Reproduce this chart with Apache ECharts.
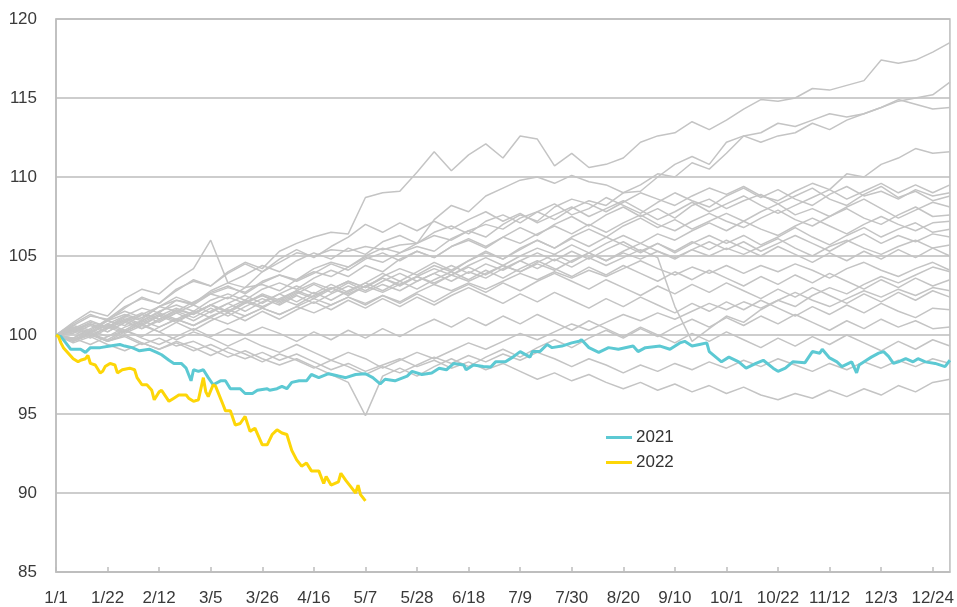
<!DOCTYPE html>
<html>
<head>
<meta charset="utf-8">
<script src="https://cdn.jsdelivr.net/npm/echarts@6/dist/echarts.min.js"></script>
<style>
html,body{margin:0;padding:0;background:#fff;}
#chart{width:957px;height:607px;}
</style>
</head>
<body>
<div id="chart"></div>
<script>
// x tick labels (every 21 days starting 1/1)
const xTickLabels = ['1/1','1/22','2/12','3/5','3/26','4/16','5/7','5/28','6/18','7/9','7/30','8/20','9/10','10/1','10/22','11/12','12/3','12/24'];
const yTicks = [85, 90, 95, 100, 105, 110, 115, 120];

// Grey history lines: weekly values (day 0, 7, 14, ... 364)
const grayA = [100,100.6,101.2,101.0,101.8,102.3,102.0,102.9,103.4,103.1,104.0,104.6,104.2,105.3,105.8,106.2,106.5,106.4,108.7,109.0,109.1,110.3,111.6,110.4,111.4,112.1,111.2,112.6,112.4,110.7,111.5,110.6,110.8,111.2,112.2,112.6,112.8,113.5,113.0,113.6,114.3,114.9,114.8,115.0,115.6,115.5,115.8,116.1,117.4,117.2,117.4,117.9,118.5];
const grayB = [100,100.3,100.8,100.5,101.2,101.7,101.4,102.2,102.0,102.8,103.3,103.0,104.0,104.6,105.2,105.0,105.4,105.3,105.6,105.4,105.7,105.8,107.3,108.2,107.8,108.8,109.3,109.8,110.0,109.6,110.1,109.7,109.5,109.0,109.1,110.0,110.8,111.3,110.8,112.2,112.6,112.8,113.4,113.2,113.6,114.0,113.8,114.0,114.4,114.8,115.0,115.2,116.0];
const grayC = [100,100.5,100.2,100.9,101.3,101.0,101.8,102.2,101.9,102.6,103.0,102.7,103.4,103.8,103.5,104.2,104.6,104.3,105.0,105.5,105.2,105.8,106.3,106.0,106.6,107.0,106.7,107.4,107.8,107.3,108.0,108.5,108.2,109.0,109.5,110.2,110.0,110.9,110.5,111.5,112.6,112.2,112.6,112.8,113.4,113.0,113.6,114.0,114.4,114.9,114.6,114.3,114.4];
const grayD = [100,99.8,100.4,100.9,100.6,101.3,101.8,101.5,102.1,102.6,102.3,103.0,103.2,102.8,103.5,104.0,103.7,104.3,104.9,104.6,105.2,105.6,105.3,106.1,106.6,106.2,107.0,107.6,107.2,108.1,108.6,108.3,107.8,108.4,109.0,108.6,108.2,108.8,109.3,108.9,109.4,108.8,108.5,109.1,109.6,109.2,110.2,110.0,110.8,111.2,111.8,111.5,111.6];
const grayE = [100,100.8,101.5,101.2,102.3,102.9,102.6,103.5,104.2,106.0,103.3,103.8,104.4,104.0,104.7,105.2,104.8,105.5,105.1,105.9,106.3,105.8,106.5,106.9,106.4,107.2,107.6,107.1,107.8,108.3,107.6,108.0,108.7,108.2,107.7,108.4,109.0,108.5,108.1,108.8,109.3,108.7,109.2,108.6,108.2,108.9,109.4,108.8,109.1,108.6,109.2,108.8,109.0];
const grayF = [100,100.4,100.1,100.7,101.2,100.9,101.5,101.9,101.5,102.2,102.6,102.2,102.9,103.3,102.9,103.6,104.1,103.7,104.4,104.0,104.8,105.3,104.9,105.6,106.0,105.5,106.2,106.8,106.3,107.0,107.5,106.9,107.6,108.1,107.5,108.0,107.4,108.2,108.6,108.0,108.5,108.9,108.3,108.8,109.3,108.6,108.2,108.9,109.4,108.7,109.1,108.5,108.8];
const grayG = [100,100.2,100.7,100.4,100.9,101.4,101.0,101.6,101.3,101.9,102.4,102.0,102.6,102.2,102.8,103.3,102.9,103.4,103.0,103.7,104.2,103.8,104.4,104.0,104.7,105.2,104.8,105.5,106.0,105.5,106.2,106.7,106.2,106.9,107.4,106.8,107.3,106.7,107.2,107.7,107.2,107.8,108.3,107.6,108.0,107.5,108.1,108.6,108.0,107.4,107.9,108.4,108.1];
const grayH = [100,100.6,100.3,101.0,101.5,101.1,101.8,102.4,102.0,102.7,103.1,102.6,103.3,103.8,103.4,103.9,104.5,104.1,104.8,105.2,104.7,105.3,104.9,105.6,106.1,105.6,106.2,105.8,106.4,106.9,106.4,107.0,106.5,107.1,107.6,107.0,106.6,107.2,107.7,107.2,106.8,107.4,107.9,107.3,106.9,107.5,108.0,107.4,107.0,107.6,108.1,107.5,107.6];
const grayI = [100,99.7,100.2,100.6,100.2,100.8,101.3,100.9,101.4,101.9,101.5,102.1,102.5,102.1,102.7,102.3,102.9,103.4,103.0,103.6,103.1,103.7,104.2,103.8,104.4,104.9,104.4,105.0,105.5,105.1,105.7,105.2,105.8,106.3,105.8,106.4,106.0,106.6,107.1,106.6,107.2,106.7,106.3,106.9,107.4,106.9,106.4,107.0,107.5,107.0,106.6,107.1,107.2];
const grayJ = [100,100.4,100.9,100.5,101.1,100.7,101.2,101.7,101.3,101.9,101.4,102.0,102.5,102.0,102.6,103.2,102.7,103.3,102.8,103.4,103.9,103.4,103.9,104.4,103.9,104.5,104.1,104.7,105.2,104.7,105.3,104.8,105.4,105.9,105.3,105.8,105.2,105.8,106.3,105.8,106.3,105.7,106.2,106.8,106.2,105.7,106.3,106.8,106.2,106.7,107.1,106.5,106.7];
const grayK = [100,100.3,99.9,100.5,101.0,100.6,101.2,100.8,101.4,101.9,101.5,102.1,101.7,102.3,102.8,102.4,103.0,102.5,103.1,103.6,103.2,103.7,103.2,103.8,104.3,103.8,104.4,104.0,104.6,105.1,104.6,105.2,104.7,105.3,105.8,105.3,104.8,105.4,105.9,105.4,105.9,105.3,105.8,106.3,105.8,105.3,105.9,106.4,105.8,106.3,105.9,106.4,106.2];
const grayL = [100,100.5,100.1,100.7,100.3,100.9,101.4,101.0,101.5,101.1,101.7,102.2,101.8,102.3,101.9,102.5,103.0,102.6,103.1,102.7,103.2,103.7,103.3,103.8,103.4,103.9,104.4,104.0,104.5,104.1,104.7,105.2,104.7,105.2,104.8,105.3,104.9,105.4,105.0,105.5,105.1,105.6,106.1,105.5,105.0,105.6,106.0,105.5,105.1,105.6,106.0,105.5,105.7];
const grayM = [100,99.8,100.3,99.9,100.5,100.9,100.5,101.0,100.6,101.2,101.6,101.2,101.7,101.3,101.8,102.3,101.9,102.4,102.0,102.5,102.1,102.7,103.2,102.8,103.3,102.9,103.4,103.9,103.5,104.0,103.6,104.1,103.7,104.2,104.7,104.2,103.8,104.3,103.9,104.4,103.9,104.4,104.0,104.5,104.1,103.6,104.2,104.6,104.1,103.7,104.2,104.6,104.1];
const grayN = [100,100.2,99.8,100.4,100.9,100.4,101.0,101.5,101.1,101.7,101.2,101.8,102.3,101.9,102.5,102.0,102.6,103.1,102.7,103.2,102.8,103.4,103.9,103.4,104.0,103.6,104.2,104.7,104.2,104.8,104.3,104.9,104.4,104.9,105.4,104.9,101.8,99.6,100.4,101.2,100.8,101.6,102.2,101.8,102.5,103.0,102.6,103.2,103.7,103.3,103.8,104.3,104.0];
const grayO = [100,100.3,100.7,100.2,100.8,100.4,100.9,101.4,100.9,101.5,102.0,101.5,102.1,102.6,102.1,102.7,102.2,102.8,103.3,102.8,103.4,102.9,103.5,104.0,103.5,104.1,103.6,104.2,104.7,104.2,103.7,104.3,103.8,104.4,103.9,103.4,104.0,103.5,104.1,103.6,103.1,103.7,103.2,103.8,103.3,103.9,103.4,102.9,103.5,103.0,103.6,103.1,103.5];
const grayP = [100,99.6,100.1,99.7,100.3,99.9,100.5,101.0,100.6,101.1,100.7,101.2,101.7,101.3,101.8,101.4,101.9,102.4,101.9,102.5,102.0,102.6,102.1,102.7,103.2,102.7,103.3,102.8,103.4,103.9,103.4,102.9,103.5,103.0,102.5,103.1,102.6,103.2,102.7,103.3,102.8,102.3,102.9,102.4,103.0,102.5,102.0,102.6,102.1,102.7,102.2,102.8,102.4];
const grayQ = [100,100.4,100.0,99.6,100.2,100.7,100.2,100.8,100.3,100.9,101.4,100.9,101.5,101.0,101.6,102.1,101.6,102.2,101.7,102.3,101.8,102.4,101.9,102.5,103.0,102.5,102.0,102.6,102.1,102.7,102.2,101.7,102.3,101.8,102.4,101.9,101.4,102.0,101.5,102.1,101.6,102.2,101.7,101.2,101.8,101.3,101.9,101.4,102.0,101.5,101.1,101.7,101.6];
const grayR = [100,99.7,100.1,99.6,99.9,99.4,99.8,99.3,99.6,99.1,98.6,99.0,98.5,98.1,98.5,98.0,97.5,97.0,94.9,97.4,97.9,97.4,98.0,98.5,98.0,98.6,99.1,98.6,99.2,99.7,99.2,99.8,100.3,99.8,100.4,99.9,100.5,101.0,100.5,101.1,100.6,101.2,100.7,101.3,100.8,100.3,100.9,100.4,101.0,100.5,100.9,100.4,100.5];
const grayS = [100,99.8,99.4,99.9,100.3,99.8,99.4,99.9,100.4,99.9,100.4,100.0,100.5,100.1,99.6,100.2,99.7,100.3,99.8,100.4,99.9,100.5,101.0,100.5,101.1,100.6,101.2,100.7,101.3,100.8,100.3,100.9,100.4,99.9,100.5,100.0,99.5,100.1,99.6,100.2,99.7,99.2,99.8,99.3,99.9,99.4,100.0,99.5,99.0,99.6,99.1,99.7,99.3];
const grayT = [100,99.5,99.9,99.4,99.0,99.5,99.1,99.6,99.2,98.7,99.2,98.8,98.3,98.8,98.4,97.9,98.4,98.0,97.5,98.0,97.6,98.1,98.6,98.2,98.7,98.3,98.8,98.4,98.9,98.5,98.0,98.5,98.1,97.6,98.1,97.7,98.2,97.8,98.3,97.9,98.4,98.0,98.5,98.1,97.7,98.2,97.8,98.3,97.9,98.4,98.0,98.5,98.2];
const grayU = [100,99.7,100.1,99.6,100.0,99.5,99.1,99.5,99.0,99.4,98.9,98.5,98.9,98.4,98.8,98.3,97.8,98.2,97.7,98.1,98.5,98.0,98.4,97.9,98.3,97.8,98.2,97.7,97.2,97.6,97.1,97.5,97.0,96.6,97.0,96.5,96.9,96.4,96.8,96.3,96.7,96.2,95.9,96.3,96.0,96.5,96.1,96.6,96.2,96.8,96.4,97.0,97.2];
const grayV = [100,100.7,101.3,100.9,101.7,102.4,102.0,102.8,103.5,103.1,103.9,104.5,104.0,104.8,105.4,104.9,105.6,106.2,107.0,106.5,107.1,106.6,107.2,106.7,107.3,107.8,107.2,107.7,107.1,107.6,108.1,107.5,108.0,108.5,107.9,107.3,107.8,108.4,107.8,108.3,108.8,108.2,107.7,108.2,108.7,109.2,108.6,109.1,109.6,109.0,109.5,109.0,109.5];
const grayW = [100,99.6,100.0,100.5,100.1,100.6,100.2,99.7,100.2,99.8,99.3,99.8,99.3,98.9,99.4,98.9,98.4,98.9,98.5,97.9,98.4,98.9,98.5,99.0,99.5,99.1,99.6,100.1,99.7,100.2,100.7,100.3,100.8,101.3,100.9,101.4,101.0,101.5,102.0,101.6,102.1,101.7,102.2,102.7,102.2,101.8,102.3,102.8,102.4,102.9,102.5,103.0,102.8];
const grayX = [100,100.1,100.6,100.2,100.8,101.3,100.8,101.4,101.9,101.4,102.0,102.5,102.0,102.6,103.1,102.6,103.2,102.7,103.3,103.9,103.4,104.0,104.6,104.1,104.7,105.3,104.8,105.4,106.0,105.5,106.1,105.6,106.2,105.7,105.2,105.8,105.3,105.9,105.4,106.0,105.5,105.0,105.6,105.1,104.6,105.2,104.7,105.3,104.8,105.4,104.9,105.5,105.0];

const grayLines = [grayA,grayB,grayC,grayD,grayE,grayF,grayG,grayH,grayI,grayJ,grayK,grayL,grayM,grayN,grayO,grayP,grayQ,grayR,grayS,grayT,grayU,grayV,grayW,grayX];
const grayStepDays = 7;

// 2021 (teal)
const days2021 = [0,2,4,6,10,12,14,18,22,26,28,31,34,38,41,43,46,48,51,53,55,56,58,60,62,64,67,69,71,75,77,80,82,86,87,90,92,94,96,99,102,104,107,111,115,118,122,126,129,132,134,138,143,145,149,153,156,159,162,166,167,170,174,177,179,183,186,189,193,194,197,200,202,206,210,213,214,217,221,225,229,235,237,240,246,250,254,256,259,262,265,266,271,274,278,281,285,288,292,294,297,300,305,308,311,312,315,318,320,324,326,327,330,332,335,337,339,341,343,346,349,351,354,358,362,364];
const values2021 = [100.0,99.9,99.5,99.1,99.1,98.9,99.2,99.2,99.3,99.4,99.3,99.2,99.0,99.1,98.9,98.75,98.4,98.2,98.2,97.9,97.1,97.8,97.7,97.8,97.3,96.85,97.1,97.1,96.6,96.6,96.3,96.3,96.5,96.6,96.5,96.6,96.75,96.6,97.0,97.1,97.1,97.5,97.3,97.55,97.4,97.3,97.5,97.55,97.3,96.9,97.2,97.1,97.4,97.7,97.5,97.6,97.9,97.8,98.2,98.1,97.8,98.1,98.0,97.97,98.3,98.3,98.6,98.95,98.6,98.95,98.95,99.4,99.2,99.3,99.5,99.6,99.7,99.2,98.9,99.2,99.1,99.3,98.95,99.2,99.3,99.1,99.5,99.6,99.3,99.4,99.5,98.95,98.3,98.6,98.3,97.9,98.2,98.4,97.9,97.7,97.9,98.3,98.25,98.95,98.85,99.1,98.55,98.3,98.0,98.3,97.6,98.1,98.4,98.6,98.85,98.95,98.65,98.2,98.3,98.5,98.3,98.5,98.3,98.2,98.0,98.4];

// 2022 (yellow)
const days2022 = [0,1,2,3,5,7,9,10,12,13,14,16,18,19,20,22,24,25,27,30,32,33,35,37,39,40,42,43,46,48,50,53,54,56,58,60,61,62,64,65,68,69,71,73,75,77,79,81,84,86,88,90,92,94,96,98,100,102,104,107,109,110,112,115,116,118,120,122,123,124,126];
const values2022 = [100.0,99.9,99.5,99.2,98.85,98.5,98.3,98.4,98.5,98.7,98.2,98.1,97.6,97.7,98.0,98.2,98.1,97.6,97.8,97.9,97.8,97.3,96.85,96.85,96.5,95.9,96.4,96.5,95.8,96.0,96.2,96.2,96.0,95.8,95.9,97.3,96.4,96.1,96.85,96.75,95.6,95.2,95.2,94.3,94.4,94.85,93.9,94.1,93.05,93.05,93.7,94.0,93.8,93.7,92.7,92.1,91.7,91.9,91.4,91.4,90.6,91.05,90.5,90.7,91.25,90.8,90.4,90.0,90.5,89.9,89.5];

const chart = echarts.init(document.getElementById('chart'), null, {renderer: 'canvas'});
const FONT = '"Liberation Sans", Arial, sans-serif';
const gridColor = '#bdbdbd';

const series = [];
grayLines.forEach((vals, idx) => {
  series.push({
    type: 'line', name: 'hist' + idx, silent: true, symbol: 'none',
    data: vals.map((v, i) => [i * grayStepDays, v]),
    lineStyle: {color: '#c4c4c4', width: 1.5},
    z: 2
  });
});
series.push({
  type: 'line', name: '2021', symbol: 'none',
  data: days2021.map((d, i) => [d, values2021[i]]),
  lineStyle: {color: '#5cc9d3', width: 3},
  itemStyle: {color: '#5cc9d3'},
  z: 3
});
series.push({
  type: 'line', name: '2022', symbol: 'none',
  data: days2022.map((d, i) => [d, values2022[i]]),
  lineStyle: {color: '#fdd607', width: 3},
  itemStyle: {color: '#fdd607'},
  z: 4
});

chart.setOption({
  animation: false,
  backgroundColor: '#fff',
  grid: {left: 56, right: 6, top: 19, bottom: 34, show: true, borderColor: gridColor, borderWidth: 1.5, containLabel: false},
  legend: {
    data: ['2021', '2022'],
    orient: 'vertical', left: 601, top: 424,
    icon: 'rect', itemWidth: 26, itemHeight: 3, itemGap: 8,
    textStyle: {fontFamily: FONT, fontSize: 17, color: '#333', lineHeight: 17, padding: [0, 0, 0, -1]},
    selectedMode: false
  },
  xAxis: {
    type: 'value', min: 0, max: 364, interval: 21,
    axisLine: {show: true, lineStyle: {color: gridColor, width: 1.5}},
    axisTick: {show: true, inside: true, length: 5, lineStyle: {color: gridColor, width: 1.5}},
    splitLine: {show: false},
    axisLabel: {
      margin: 18, fontFamily: FONT, fontSize: 17, color: '#3a3a3a',
      showMaxLabel: false,
      formatter: (v) => (v % 21 === 0 ? (xTickLabels[v / 21] || '') : '')
    }
  },
  yAxis: {
    type: 'value', min: yTicks[0], max: yTicks[yTicks.length - 1], interval: 5,
    axisLine: {show: true, lineStyle: {color: gridColor, width: 1.5}},
    axisTick: {show: false},
    splitLine: {show: true, lineStyle: {color: gridColor, width: 1.5}},
    axisLabel: {margin: 19, fontFamily: FONT, fontSize: 17, color: '#3a3a3a'}
  },
  series: series
});
</script>
</body>
</html>
